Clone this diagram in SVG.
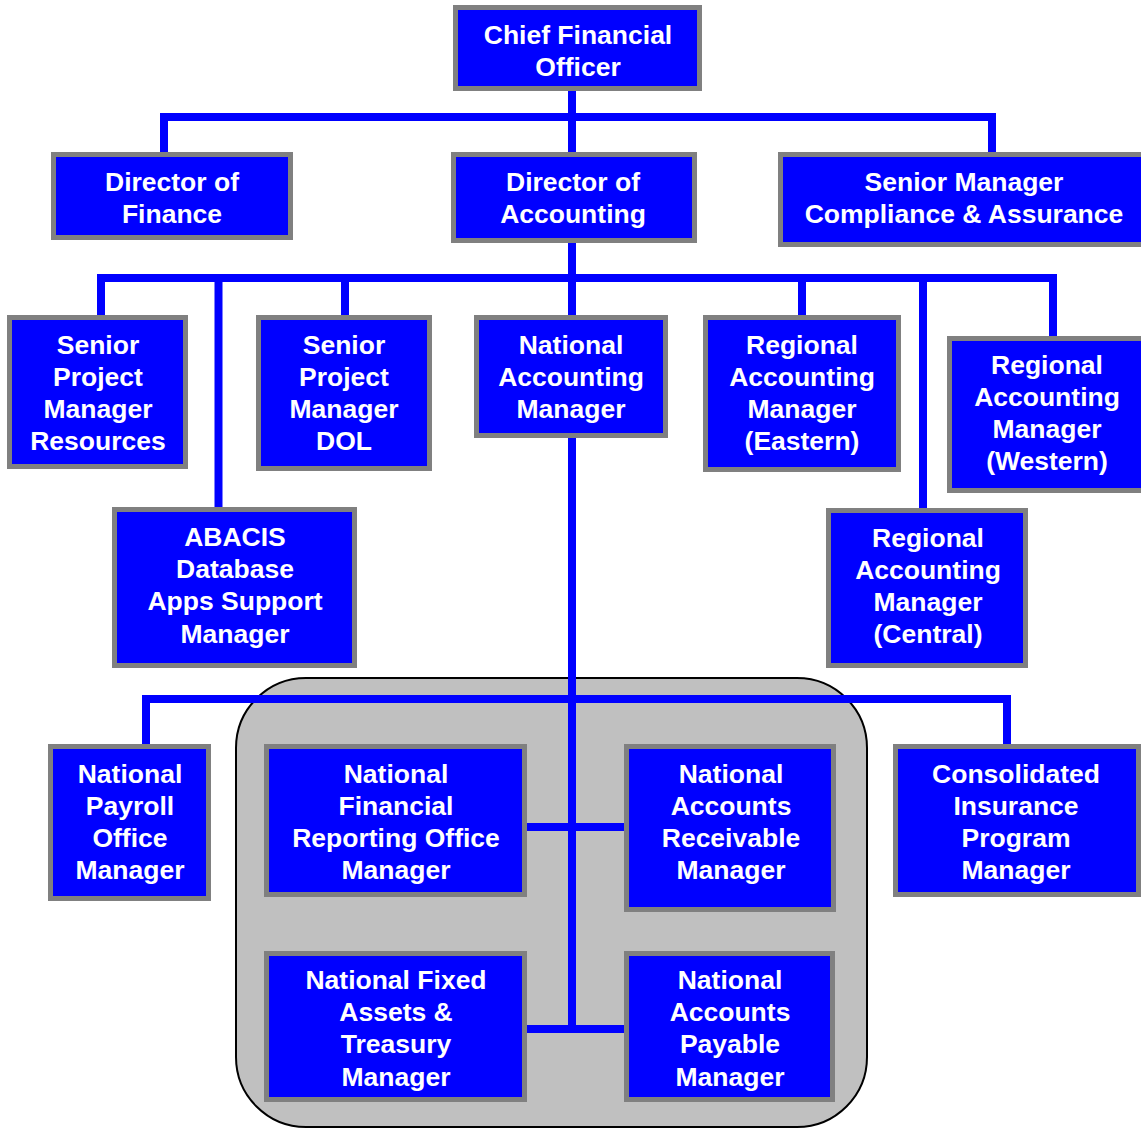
<svg xmlns="http://www.w3.org/2000/svg" width="1141" height="1129" viewBox="0 0 1141 1129">
<style>
.box{fill:#0000FF;stroke:#808080;stroke-width:5}
.t{fill:#FFFFFF;font-family:"Liberation Sans",Arial,sans-serif;font-weight:bold;font-size:26.5px;text-anchor:middle}
.ln{fill:none;stroke:#0000FF;stroke-width:8}
</style>
<rect width="1141" height="1129" fill="#FFFFFF"/>
<rect id="group-area" x="236" y="678" width="631" height="449" rx="70" ry="70" fill="#C0C0C0" stroke="#000000" stroke-width="2"/>
<g id="connectors">
<path class="ln" d="M572,91 V152"/>
<path class="ln" d="M164,152 V117 H992 V152"/>
<path class="ln" d="M572,243 V315"/>
<path class="ln" d="M101,315 V278 H1053 V336"/>
<path class="ln" d="M218.5,278 V507"/>
<path class="ln" d="M345,278 V315"/>
<path class="ln" d="M802,278 V315"/>
<path class="ln" d="M923,278 V508"/>
<path class="ln" d="M572,438 V1029"/>
<path class="ln" d="M146,744 V699 H1007 V744"/>
<path class="ln" d="M527,827 H624"/>
<path class="ln" d="M527,1029 H624"/>
</g>
<g id="cfo"><rect class="box" x="455.5" y="7.5" width="244" height="81"/><text class="t" x="578" y="44">Chief Financial</text><text class="t" x="578" y="76">Officer</text></g>
<g id="dir-finance"><rect class="box" x="53.5" y="154.5" width="237" height="83"/><text class="t" x="172" y="191">Director of</text><text class="t" x="172" y="223">Finance</text></g>
<g id="dir-accounting"><rect class="box" x="453.5" y="154.5" width="241" height="86"/><text class="t" x="573" y="191">Director of</text><text class="t" x="573" y="223">Accounting</text></g>
<g id="sm-compliance"><rect class="box" x="780.5" y="154.5" width="363" height="90"/><text class="t" x="964" y="191">Senior Manager</text><text class="t" x="964" y="223">Compliance &amp; Assurance</text></g>
<g id="spm-resources"><rect class="box" x="9.5" y="317.5" width="176" height="149"/><text class="t" x="98" y="354">Senior</text><text class="t" x="98" y="386">Project</text><text class="t" x="98" y="418">Manager</text><text class="t" x="98" y="450">Resources</text></g>
<g id="spm-dol"><rect class="box" x="258.5" y="317.5" width="171" height="151"/><text class="t" x="344" y="354">Senior</text><text class="t" x="344" y="386">Project</text><text class="t" x="344" y="418">Manager</text><text class="t" x="344" y="450">DOL</text></g>
<g id="nam"><rect class="box" x="476.5" y="317.5" width="189" height="118"/><text class="t" x="571" y="354">National</text><text class="t" x="571" y="386">Accounting</text><text class="t" x="571" y="418">Manager</text></g>
<g id="ram-eastern"><rect class="box" x="705.5" y="317.5" width="193" height="152"/><text class="t" x="802" y="354">Regional</text><text class="t" x="802" y="386">Accounting</text><text class="t" x="802" y="418">Manager</text><text class="t" x="802" y="450">(Eastern)</text></g>
<g id="ram-western"><rect class="box" x="949.5" y="338.5" width="194" height="152"/><text class="t" x="1047" y="374">Regional</text><text class="t" x="1047" y="406">Accounting</text><text class="t" x="1047" y="438">Manager</text><text class="t" x="1047" y="470">(Western)</text></g>
<g id="abacis"><rect class="box" x="114.5" y="509.5" width="240" height="156"/><text class="t" x="235" y="546">ABACIS</text><text class="t" x="235" y="578">Database</text><text class="t" x="235" y="610">Apps Support</text><text class="t" x="235" y="643">Manager</text></g>
<g id="ram-central"><rect class="box" x="828.5" y="510.5" width="197" height="155"/><text class="t" x="928" y="547">Regional</text><text class="t" x="928" y="579">Accounting</text><text class="t" x="928" y="611">Manager</text><text class="t" x="928" y="643">(Central)</text></g>
<g id="npom"><rect class="box" x="50.5" y="746.5" width="158" height="152"/><text class="t" x="130" y="783">National</text><text class="t" x="130" y="815">Payroll</text><text class="t" x="130" y="847">Office</text><text class="t" x="130" y="879">Manager</text></g>
<g id="nfro"><rect class="box" x="266.5" y="746.5" width="258" height="148"/><text class="t" x="396" y="783">National</text><text class="t" x="396" y="815">Financial</text><text class="t" x="396" y="847">Reporting Office</text><text class="t" x="396" y="879">Manager</text></g>
<g id="nar"><rect class="box" x="626.5" y="746.5" width="207" height="163"/><text class="t" x="731" y="783">National</text><text class="t" x="731" y="815">Accounts</text><text class="t" x="731" y="847">Receivable</text><text class="t" x="731" y="879">Manager</text></g>
<g id="cipm"><rect class="box" x="895.5" y="746.5" width="243" height="148"/><text class="t" x="1016" y="783">Consolidated</text><text class="t" x="1016" y="815">Insurance</text><text class="t" x="1016" y="847">Program</text><text class="t" x="1016" y="879">Manager</text></g>
<g id="nfa"><rect class="box" x="266.5" y="953.5" width="258" height="146"/><text class="t" x="396" y="989">National Fixed</text><text class="t" x="396" y="1021">Assets &amp;</text><text class="t" x="396" y="1053">Treasury</text><text class="t" x="396" y="1086">Manager</text></g>
<g id="nap"><rect class="box" x="626.5" y="953.5" width="206" height="146"/><text class="t" x="730" y="989">National</text><text class="t" x="730" y="1021">Accounts</text><text class="t" x="730" y="1053">Payable</text><text class="t" x="730" y="1086">Manager</text></g>
</svg>
